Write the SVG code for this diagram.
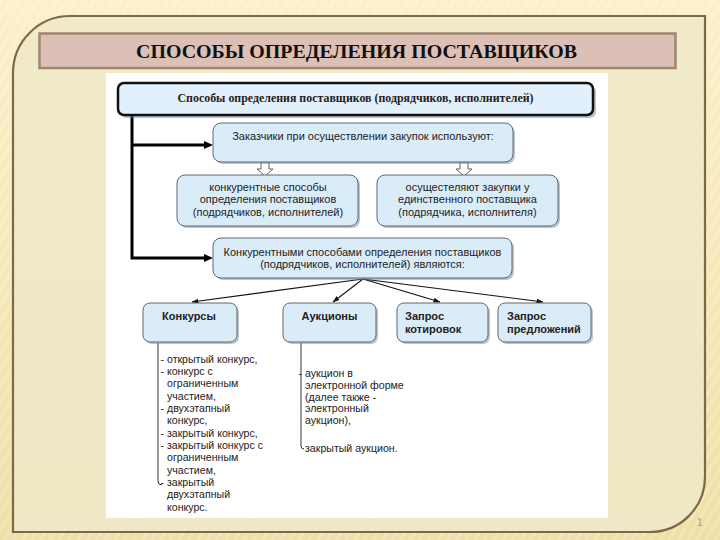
<svg xmlns="http://www.w3.org/2000/svg" width="720" height="540" viewBox="0 0 720 540">
<defs>
<style>
.bx{fill:#dbecf9;stroke:#5d6873;stroke-width:1}
.sh{fill:#7f8890;opacity:.5}
.t{font-family:"Liberation Sans",Arial,sans-serif;font-size:11px;fill:#222}
.tc{text-anchor:middle}
.b{font-weight:bold}
.lst{font-family:"Liberation Sans",Arial,sans-serif;font-size:10.6px;fill:#222}
.thick{fill:none;stroke:#000;stroke-width:3}
.thin{fill:none;stroke:#111;stroke-width:1.1}
.hollow{fill:#fff;stroke:#555;stroke-width:.9}
.br{fill:none;stroke:#333;stroke-width:1}
</style>
<linearGradient id="bg" x1="0" y1="0" x2="0" y2="1"><stop offset="0" stop-color="#fcf0c8"/><stop offset="1" stop-color="#f0dfa6"/></linearGradient>
<pattern id="str" width="8" height="8" patternUnits="userSpaceOnUse" patternTransform="rotate(30)"><rect width="3" height="8" fill="#fff" opacity=".2"/></pattern>
<marker id="ah" markerUnits="userSpaceOnUse" markerWidth="10" markerHeight="8" refX="2" refY="4" orient="auto"><path d="M0,0 L9,4 L0,8 z" fill="#000"/></marker>
<marker id="as" markerUnits="userSpaceOnUse" markerWidth="7" markerHeight="6" refX="6.5" refY="2.5" orient="auto"><path d="M0,0 L7,2.5 L0,5 z" fill="#111"/></marker>
</defs>

<g id="background">
<rect width="720" height="540" fill="url(#bg)"/>
<rect width="720" height="540" fill="url(#str)"/>
<path d="M13,532 V73 A57,57 0 0 1 70,16 H705 V477 A55,55 0 0 1 650,532 Z" fill="#eee9c8" fill-opacity=".85" stroke="#7b6a4a" stroke-width="2.2"/>
<rect x="39.5" y="33.5" width="636" height="34.5" fill="#dcc0b6" stroke="#9e8670" stroke-width="2.5"/>
<text x="356.5" y="58" text-anchor="middle" font-family="'Liberation Serif','Times New Roman',serif" font-weight="bold" font-size="19" textLength="441" lengthAdjust="spacingAndGlyphs" fill="#111">СПОСОБЫ ОПРЕДЕЛЕНИЯ ПОСТАВЩИКОВ</text>
<rect x="106" y="73" width="502" height="445" fill="#fff"/>
<text x="697" y="526" font-family="'Liberation Sans',Arial,sans-serif" font-size="10" fill="#c99a45">1</text>
</g>

<g id="connectors">
<path class="thick" d="M132,115 V258 H206" marker-end="url(#ah)"/>
<path class="thick" d="M132,145 H206" marker-end="url(#ah)"/>
<path class="hollow" d="M261,162 V169 H257 L265,176 L273,169 H269 V162 Z"/>
<path class="hollow" d="M460,162 V169 H456 L464,176 L472,169 H468 V162 Z"/>
<path class="thin" d="M363,279 L192,302" marker-end="url(#as)"/>
<path class="thin" d="M363,279 L333,302" marker-end="url(#as)"/>
<path class="thin" d="M363,279 L440,302" marker-end="url(#as)"/>
<path class="thin" d="M363,279 L543,302" marker-end="url(#as)"/>
<path class="br" d="M158,343 V481 Q158,485 162,485"/>
<path class="br" d="M301,343 V446 Q301,449 304,449"/>
</g>

<g id="n-root">
<rect x="121" y="86" width="475" height="32" rx="6" class="sh"/>
<rect x="118" y="83" width="475" height="32" rx="6" fill="#e2f0fb" stroke="#111" stroke-width="2.5"/>
<text x="355.5" y="102" text-anchor="middle" font-family="'Liberation Serif','Times New Roman',serif" font-weight="bold" font-size="12" textLength="356" lengthAdjust="spacingAndGlyphs" fill="#222">Способы определения поставщиков (подрядчиков, исполнителей)</text>
</g>

<g id="n-customers">
<rect x="215" y="125" width="300" height="39" rx="8" class="sh"/>
<rect x="213" y="123" width="300" height="39" rx="8" class="bx"/>
<text x="363" y="139.5" class="t tc" font-size="10.5">Заказчики при осуществлении закупок используют:</text>
</g>

<g id="n-competitive">
<rect x="179" y="177" width="181" height="51" rx="8" class="sh"/>
<rect x="177" y="175" width="181" height="51" rx="8" class="bx"/>
<text x="268" y="190.5" class="t tc">конкурентные способы</text>
<text x="268" y="203" class="t tc">определения поставщиков</text>
<text x="268" y="215.5" class="t tc">(подрядчиков, исполнителей)</text>
</g>

<g id="n-single">
<rect x="379" y="177" width="181" height="51" rx="8" class="sh"/>
<rect x="377" y="175" width="181" height="51" rx="8" class="bx"/>
<text x="467.5" y="190.5" class="t tc">осущестеляют закупки у</text>
<text x="467.5" y="203" class="t tc">единственного поставщика</text>
<text x="467.5" y="215.5" class="t tc">(подрядчика, исполнителя)</text>
</g>

<g id="n-methods">
<rect x="215" y="240" width="299" height="40" rx="8" class="sh"/>
<rect x="213" y="238" width="299" height="40" rx="8" class="bx"/>
<text x="362.5" y="255.5" class="t tc">Конкурентными способами определения поставщиков</text>
<text x="362.5" y="268" class="t tc">(подрядчиков, исполнителей) являются:</text>
</g>

<g id="n-konkursy">
<rect x="145" y="305" width="94" height="39" rx="7" class="sh"/>
<rect x="143" y="303" width="94" height="39" rx="7" class="bx"/>
<text x="189" y="320" class="t tc b" font-size="10.5">Конкурсы</text>
</g>

<g id="n-auctions">
<rect x="285" y="305" width="93" height="39" rx="7" class="sh"/>
<rect x="283" y="303" width="93" height="39" rx="7" class="bx"/>
<text x="329.5" y="320" class="t tc b" font-size="10.5">Аукционы</text>
</g>

<g id="n-quotes">
<rect x="399" y="305" width="91" height="39" rx="7" class="sh"/>
<rect x="397" y="303" width="91" height="39" rx="7" class="bx"/>
<text x="405" y="320" class="t b" font-size="10.5">Запрос</text>
<text x="405" y="333" class="t b" font-size="10.5">котировок</text>
</g>

<g id="n-proposals">
<rect x="500" y="305" width="93" height="39" rx="7" class="sh"/>
<rect x="498" y="303" width="93" height="39" rx="7" class="bx"/>
<text x="507" y="320" class="t b" font-size="10.5">Запрос</text>
<text x="507" y="333" class="t b" font-size="10.5">предложений</text>
</g>

<g id="list-konkursy" class="lst">
<text x="160.5" y="362.5">- открытый конкурс,</text>
<text x="160.5" y="374.9">- конкурс с</text>
<text x="167" y="387.2">ограниченным</text>
<text x="167" y="399.6">участием,</text>
<text x="160.5" y="411.9">- двухэтапный</text>
<text x="167" y="424.3">конкурс,</text>
<text x="160.5" y="436.6">- закрытый конкурс,</text>
<text x="160.5" y="449">- закрытый конкурс с</text>
<text x="167" y="461.3">ограниченным</text>
<text x="167" y="473.7">участием,</text>
<text x="160.5" y="486">- закрытый</text>
<text x="167" y="498.4">двухэтапный</text>
<text x="167" y="510.7">конкурс.</text>
</g>

<g id="list-auctions" class="lst">
<text x="298.5" y="376.5">- аукцион в</text>
<text x="305" y="388.5">электронной форме</text>
<text x="305" y="400.5">(далее также -</text>
<text x="305" y="411.5">электронный</text>
<text x="305" y="423.5">аукцион),</text>
<text x="305" y="451.5">закрытый аукцион.</text>
</g>
</svg>
